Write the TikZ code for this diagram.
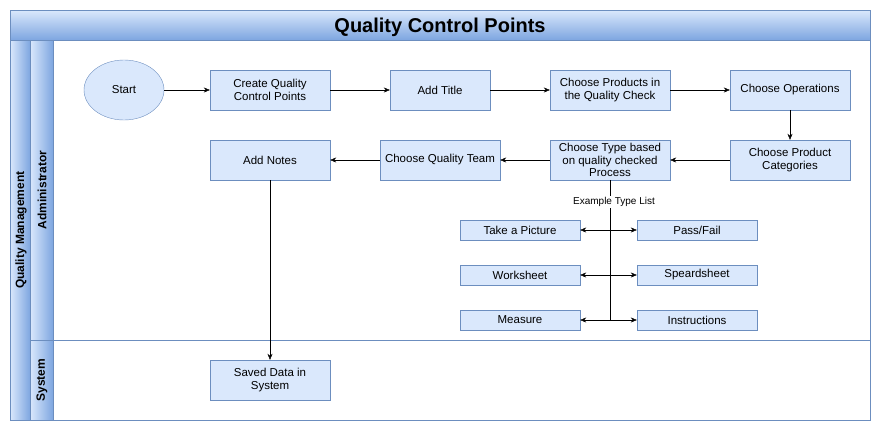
\documentclass[tikz,border=0pt]{standalone}
\usepackage{fontspec}
\setmainfont{Liberation Sans}
\usetikzlibrary{positioning,arrows.meta,shapes.geometric}
\definecolor{boxfill}{HTML}{DAE8FC}
\definecolor{boxline}{HTML}{6C8EBF}
\definecolor{lanetop}{HTML}{DAE8FC}
\definecolor{lanebot}{HTML}{7EA6E0}
\tikzset{>={Stealth[length=6pt,width=5pt]},
  proc/.style={draw=boxline,fill=boxfill,minimum width=120pt,minimum height=40pt,align=center,font=\fontsize{11.5}{12.5}\selectfont,inner sep=1pt},
  item/.style={proc,minimum height=20pt},
  band/.style={draw=boxline,top color=lanetop,bottom color=lanebot},
  side/.style={draw=boxline,left color=lanetop,right color=lanebot},
  lanename/.style={rotate=90,font=\fontsize{12}{13}\selectfont\bfseries}}

\begin{document}
\begin{tikzpicture}[x=1pt,y=-1pt]
\useasboundingbox (0,0) rectangle (881,431);
% pool and lanes
\draw[boxline] (10,10) rectangle (870,420);
\draw[band] (10,10) rectangle (870,40);
\node[font=\fontsize{20}{22}\selectfont\bfseries] (title) at (440,27) {Quality Control Points};
\draw[side] (10,40) rectangle (30,420);
\node[lanename] (pool) at (21,230) {Quality Management};
\draw[side] (30,40) rectangle (53,340);
\node[lanename] (admin) at (42,190) {Administrator};
\draw[side] (30,340) rectangle (53,420);
\node[lanename] (sys) at (42,380) {System};
\draw[boxline] (53,340) -- (870,340);

% steps
\node[ellipse,draw=boxline,fill=boxfill,minimum width=80pt,minimum height=60pt,font=\fontsize{11.5}{12.5}\selectfont] (start) at (124,90) {Start};
\node[proc] (create) at (270,90) {Create Quality\\Control Points};
\node[proc,minimum width=100pt] (title2) at (440,90) {Add Title};
\node[proc] (products) at (610,90) {Choose Products in\\the Quality Check};
\node[proc] (operations) at (790,90) {Choose Operations};
\node[proc] (categories) at (790,160) {Choose Product\\Categories};
\node[proc] (type) at (610,160) {Choose Type based\\on quality checked\\Process};
\node[proc] (team) at (440,160) {Choose Quality Team};
\node[proc] (notes) at (270,160) {Add Notes};
\node[proc] (saved) at (270,380) {Saved Data in\\System};

% type list
\node[item] (picture) at (520,230) {Take a Picture};
\node[item] (pass) at (697,230) {Pass/Fail};
\node[item] (worksheet) at (520,275) {Worksheet};
\node[item] (sheet) at (697,275) {Speardsheet};
\node[item] (measure) at (520,320) {Measure};
\node[item] (instr) at (697,320) {Instructions};
\coordinate (listend) at (610,320);
\draw (type) -- (listend);
\node[fill=white,font=\fontsize{10}{11}\selectfont,inner sep=1pt] (listlabel) at (614,202) {Example Type List};
\draw[<->] (picture) -- (pass);
\draw[<->] (worksheet) -- (sheet);
\draw[<->] (measure) -- (instr);

% flow
\draw[->] (start) -- (create);
\draw[->] (create) -- (title2);
\draw[->] (title2) -- (products);
\draw[->] (products) -- (operations);
\draw[->] (operations) -- (categories);
\draw[->] (categories) -- (type);
\draw[->] (type) -- (team);
\draw[->] (team) -- (notes);
\draw[->] (notes) -- (saved);
\end{tikzpicture}
\end{document}
